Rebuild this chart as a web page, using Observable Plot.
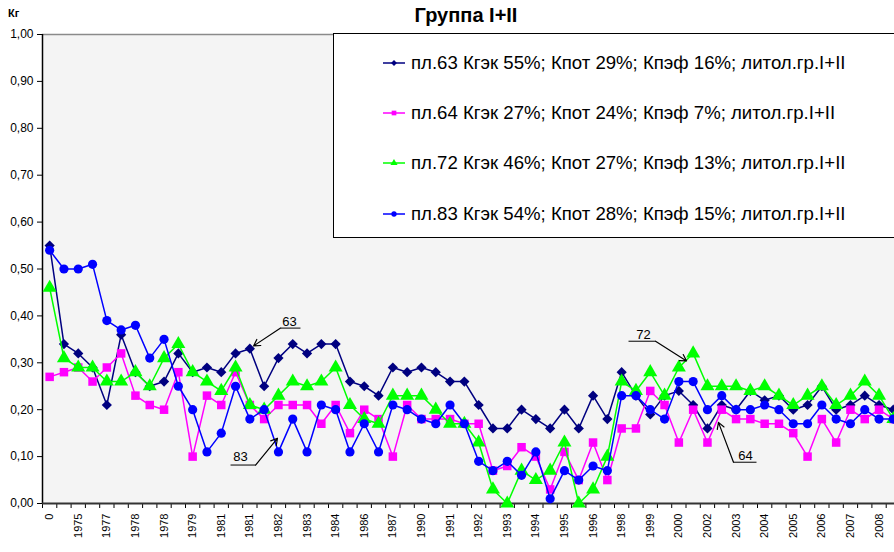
<!DOCTYPE html>
<html><head><meta charset="utf-8">
<script src="https://cdn.jsdelivr.net/npm/d3@7"></script>
<script src="https://cdn.jsdelivr.net/npm/@observablehq/plot@0.6"></script>
<style>
body{margin:0;background:#fff;font-family:"Liberation Sans",Arial,sans-serif;}
#wrap{position:relative;width:894px;height:552px;overflow:hidden;background:#fff;}
#title{position:absolute;left:0;width:932px;top:4px;text-align:center;font-weight:bold;font-size:20px;color:#000;}
#unit{position:absolute;left:8px;top:7px;font-weight:bold;font-size:11px;color:#000;}
#legend{position:absolute;left:333px;top:33px;width:620px;height:203px;border:1px solid #000;background:#fff;}
.item{position:absolute;left:49px;height:22px;display:flex;align-items:center;font-size:18.6px;color:#000;white-space:nowrap;}
.item svg{margin-right:6px;}
</style></head>
<body><div id="wrap"><div id="unit">Кг</div><div id="title">Группа I+II</div><div id="legend"></div></div>
<script>
const seriesNames = [
  "пл.63 Кгэк 55%; Кпот 29%; Кпэф 16%; литол.гр.I+II",
  "пл.64 Кгэк 27%; Кпот 24%; Кпэф 7%; литол.гр.I+II",
  "пл.72 Кгэк 46%; Кпот 27%; Кпэф 13%; литол.гр.I+II",
  "пл.83 Кгэк 54%; Кпот 28%; Кпэф 15%; литол.гр.I+II"
];
const seriesColors = ["#000080", "#ff00ff", "#00ff00", "#0000ff"];
const seriesSymbols = ["diamond2", "square", "triangle", "circle"];
const seriesR = [4.6, 4.8, 5.2, 4.6];

const tickLabels = ["0","1975","1977","1978","1978","1979","1981","1981","1982","1983","1984","1986","1987","1990","1991",
  "1992","1993","1994","1995","1996","1998","1999","2000","2002","2003","2004","2005","2006","2007","2008"];
const yTicks = [0,0.1,0.2,0.3,0.4,0.5,0.6,0.7,0.8,0.9,1.0];

const v63 = [0.55,0.34,0.32,0.29,0.21,0.36,0.28,0.25,0.26,0.32,
  0.28,0.29,0.28,0.32,0.33,0.25,0.31,0.34,0.32,0.34,
  0.34,0.26,0.25,0.23,0.29,0.28,0.29,0.28,0.26,0.26,
  0.21,0.16,0.16,0.20,0.18,0.16,0.20,0.16,0.23,0.18,
  0.28,0.23,0.19,0.23,0.24,0.21,0.16,0.21,0.20,0.24,
  0.22,0.23,0.20,0.21,0.25,0.20,0.21,0.23,0.21,0.20];
const v64 = [0.27,0.28,0.29,0.26,0.29,0.32,0.23,0.21,0.20,0.28,
  0.10,0.23,0.21,0.28,0.21,0.18,0.21,0.21,0.21,0.17,
  0.21,0.15,0.20,0.18,0.10,0.21,0.18,0.18,0.18,0.17,
  0.17,0.07,0.08,0.12,0.10,0.03,0.11,0.05,0.13,0.05,
  0.16,0.16,0.24,0.21,0.13,0.20,0.13,0.20,0.18,0.18,
  0.17,0.17,0.15,0.10,0.18,0.13,0.20,0.18,0.20,0.18];
const v72 = [0.46,0.31,0.29,0.29,0.26,0.26,0.28,0.25,0.31,0.34,
  0.28,0.26,0.24,0.29,0.21,0.20,0.23,0.26,0.25,0.26,
  0.29,0.21,0.18,0.17,0.23,0.23,0.23,0.20,0.17,0.17,
  0.13,0.03,0.00,0.07,0.05,0.07,0.13,0.00,0.03,0.10,
  0.26,0.24,0.28,0.23,0.29,0.32,0.25,0.25,0.25,0.24,
  0.25,0.23,0.21,0.23,0.25,0.21,0.23,0.26,0.23,0.18];
const v83 = [0.54,0.50,0.50,0.51,0.39,0.37,0.38,0.31,0.35,0.25,
  0.20,0.11,0.15,0.25,0.18,0.20,0.11,0.18,0.11,0.21,
  0.20,0.11,0.17,0.11,0.21,0.20,0.18,0.17,0.21,0.17,
  0.09,0.07,0.09,0.06,0.11,0.01,0.07,0.05,0.08,0.07,
  0.23,0.23,0.20,0.18,0.26,0.26,0.20,0.23,0.20,0.20,
  0.21,0.20,0.17,0.17,0.21,0.18,0.17,0.20,0.18,0.18];

// annotations (label, text pos, underline span, arrow end) in data units
const annLabels = ["63","83","72","64"];
const annTextX = [16.77,13.35,41.53,48.66];
const annTextY = [0.387,0.099,0.359,0.101];
const annLineX1 = [16.15,12.65,40.48,47.82];
const annLineX2 = [17.54,14.40,42.37,49.43];
const annLineY = [0.374,0.082,0.346,0.088];
const annArrowX1 = [16.15,14.40,42.37,47.82];
const annArrowX2 = [14.26,15.93,44.54,46.77];
const annArrowY2 = [0.336,0.139,0.304,0.173];

const allValues = [v63, v64, v72, v83];
const data = allValues.map((vals, s) => vals.map((v, i) => ({s, i, v})));
const ann = annLabels.map((t, k) => ({t, tx: annTextX[k], ty: annTextY[k], x1: annLineX1[k], x2: annLineX2[k], y: annLineY[k], ax1: annArrowX1[k], ax2: annArrowX2[k], ay2: annArrowY2[k]}));

const n = v63.length;
const boundaries = d3.range(n + 1).map(i => i - 0.5);
const labelPos = tickLabels.map((_, k) => 2 * k);

const marks = [
  Plot.frame({fill: "#f4f4f4", stroke: "none"}),
  Plot.ruleY([1], {stroke: "#8a8a8a", strokeWidth: 1.5}),
  Plot.axisY({ticks: yTicks, tickFormat: d => d.toFixed(2).replace(".", ","), tickSize: 5, tickPadding: 4, fontSize: 12, stroke: "#000"}),
  Plot.axisX({ticks: boundaries, tickFormat: () => "", tickSize: 5, stroke: "#000"}),
  Plot.axisX({ticks: labelPos, tickFormat: d => tickLabels[d / 2], tickSize: 0, tickPadding: 10, tickRotate: -90, fontSize: 11}),
  Plot.ruleX([-0.5], {stroke: "#000", strokeWidth: 1.5}),
  Plot.ruleY([0], {stroke: "#333", strokeWidth: 2})
];
data.forEach((d, s) => {
  marks.push(Plot.line(d, {x: "i", y: "v", stroke: seriesColors[s], strokeWidth: 1.5}));
  marks.push(Plot.dot(d, {x: "i", y: "v", symbol: () => seriesSymbols[s], fill: seriesColors[s], stroke: "none", r: seriesR[s]}));
});
marks.push(
  Plot.link(ann, {x1: "x1", x2: "x2", y1: "y", y2: "y", stroke: "#000", strokeWidth: 1}),
  Plot.arrow(ann, {x1: "ax1", y1: "y", x2: "ax2", y2: "ay2", stroke: "#000", strokeWidth: 1.2, headLength: 9}),
  Plot.text(ann, {x: "tx", y: "ty", text: "t", fontSize: 13, fill: "#000"})
);

const chart = Plot.plot({
  width: 894, height: 552,
  marginTop: 34, marginLeft: 42, marginRight: 0, marginBottom: 49,
  style: {background: "transparent", fontFamily: "'Liberation Sans', Arial, sans-serif", color: "#000", overflow: "hidden"},
  x: {type: "linear", domain: [-0.5, 59.08], axis: null},
  y: {domain: [0, 1], axis: null},
  symbol: {type: "identity"},
  marks
});
chart.style.position = "absolute";
chart.style.left = "0";
chart.style.top = "0";
const wrap = document.getElementById("wrap");
wrap.insertBefore(chart, wrap.firstChild);

// legend
const legend = document.getElementById("legend");
const rowTops = [29, 79, 129, 180];
seriesNames.forEach((name, s) => {
  const item = document.createElement("div");
  item.className = "item";
  item.style.top = (rowTops[s] - 11) + "px";
  const sym = d3.symbol().type({diamond2: d3.symbolDiamond2, square: d3.symbolSquare, triangle: d3.symbolTriangle, circle: d3.symbolCircle}[seriesSymbols[s]]).size(22);
  item.innerHTML = `<svg width="22" height="12"><line x1="0" x2="22" y1="6" y2="6" stroke="${seriesColors[s]}" stroke-width="1.5"/><path transform="translate(11,6)" d="${sym()}" fill="${seriesColors[s]}"/></svg><span>${name}</span>`;
  legend.appendChild(item);
});
</script></body></html>
